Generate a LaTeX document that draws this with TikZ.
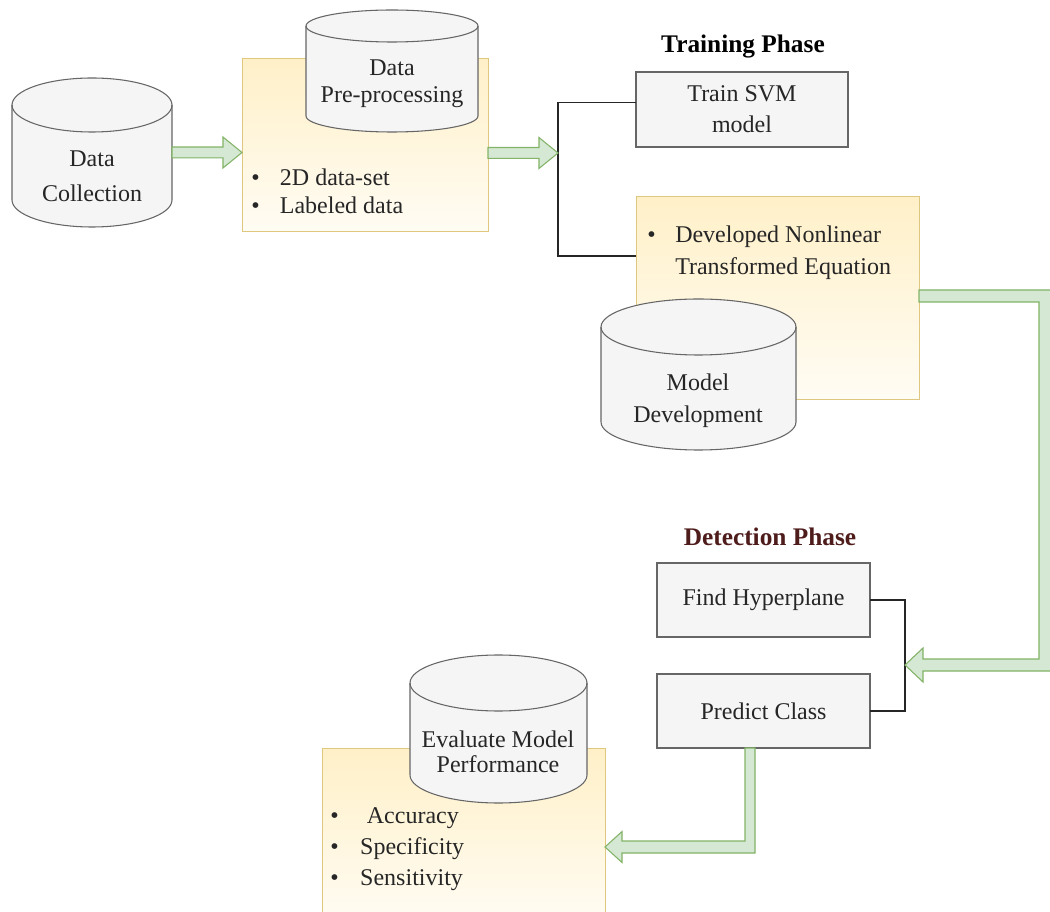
\documentclass[tikz,border=0pt]{standalone}
\usepackage{fontspec}
\setmainfont{Liberation Serif}
\usetikzlibrary{fit,calc}
\definecolor{cylfill}{HTML}{F5F5F5}
\definecolor{cyldraw}{HTML}{666666}
\definecolor{yelfill}{HTML}{FFF0C8}
\definecolor{yeldraw}{HTML}{E0C77F}
\definecolor{grfill}{HTML}{D5E8D4}
\definecolor{grdraw}{HTML}{82B366}
\definecolor{txtc}{HTML}{262626}
\definecolor{phasered}{HTML}{4F1C1C}
\tikzset{
 hold/.style={inner sep=0pt, outer sep=0pt},
 cylst/.style={fill=cylfill, draw=cyldraw, line width=0.8pt},
 yelbox/.style={hold, draw=yeldraw, line width=0.75pt, top color=yelfill, bottom color=yelfill!20!white},
 graybox/.style={hold, draw=cyldraw, fill=cylfill, line width=0.9pt, align=center, text=txtc, font=\fontsize{18}{24}\selectfont},
 lbl/.style={inner sep=0pt, align=center, text=txtc},
 blist/.style={inner sep=0pt, align=left, anchor=west, text=txtc},
 garrow/.style={fill=grfill, draw=grdraw, line width=0.8pt, line join=miter},
 link/.style={draw=black!85, line width=0.9pt},
 phase/.style={inner sep=0pt, font=\bfseries\fontsize{19}{23}\selectfont},
}
\newcommand\drawcyl[2]{%
 \path[cylst] let \p1=(#1.north west), \p2=(#1.south east), \n1={(\x2-\x1)/2}, \n2={#2*0.75pt} in
  (\x1,\y1-\n2) -- (\x1,\y2+\n2) arc (180:360:\n1 and \n2) -- (\x2,\y1-\n2) arc (0:180:\n1 and \n2) -- cycle;
 \draw[cylst, fill=none] let \p1=(#1.north west), \p2=(#1.south east), \n1={(\x2-\x1)/2}, \n2={#2*0.75pt} in
  (\x1,\y1-\n2) arc (180:360:\n1 and \n2);
}
\newcommand\harrow[2]{%
 \path[garrow] let \p1=(#1), \p2=(#2) in
 (\x1,\y1+4.1pt) -- (\x2-14.25pt,\y1+4.1pt) -- (\x2-14.25pt,\y1+11.6pt) -- (\x2,\y1) -- (\x2-14.25pt,\y1-11.6pt) -- (\x2-14.25pt,\y1-4.1pt) -- (\x1,\y1-4.1pt) -- cycle;
}
\begin{document}
\begin{tikzpicture}[x=0.75pt,y=-0.75pt]
\clip (0,0) rectangle (1050,912);
\fill[white] (0,0) rectangle (1050,912);

% yellow panels
\node[yelbox, fit={(242,59)(488,232)}] (pre) {};
\node[yelbox, fit={(636,197)(919,400)}] (dev) {};
\node[yelbox, fit={(322,748)(605,925)}] (evb) {};

% gray boxes
\node[graybox, fit={(636,72)(848,147)}] (svm) {};
\node[lbl, font=\fontsize{18}{23}\selectfont] (svmtext) at (svm.center) {Train SVM\\model};
\node[graybox, fit={(657,563)(870,637)}] (fh) {};
\node[lbl, font=\fontsize{18}{23}\selectfont] (fhtext) at (fh.center) {Find Hyperplane};
\node[graybox, fit={(657,674)(870,748)}] (pc) {};
\node[lbl, font=\fontsize{18}{23}\selectfont] (pctext) at (pc.center) {Predict Class};

% cylinder holders
\node[hold, fit={(12,78)(172,227)}] (dc) {};
\node[hold, fit={(306,10)(478,132)}] (pp) {};
\node[hold, fit={(601,299)(796,450)}] (md) {};
\node[hold, fit={(410,655)(587,803)}] (ev) {};
\drawcyl{dc}{27}
\drawcyl{pp}{16}
\drawcyl{md}{28}
\drawcyl{ev}{28}

\node[lbl, font=\fontsize{18}{26}\selectfont] (dctext) at (92,176) {Data\\Collection};
\node[lbl, font=\fontsize{18}{20}\selectfont] (pptext) at (392,84) {Data\\Pre-processing};
\node[lbl, font=\fontsize{18}{24}\selectfont] (mdtext) at (698,401) {Model\\Development};
\node[lbl, font=\fontsize{18}{19}\selectfont] (evtext) at (498,752) {Evaluate Model\\Performance};

% bullet lists
\node[blist, font=\fontsize{18}{21}\selectfont] (prelist) at (251,191)
 {\makebox[21.5pt][l]{•}2D data-set\\\makebox[21.5pt][l]{•}Labeled data};
\node[blist, font=\fontsize{18}{24}\selectfont] (devlist) at (647,253)
 {\makebox[21pt][l]{•}Developed Nonlinear\\\hspace*{21pt}Transformed Equation};
\node[blist, font=\fontsize{18}{23}\selectfont] (evlist) at (330,849)
 {\makebox[22.5pt][l]{•}\hspace{5pt}Accuracy\\\makebox[22.5pt][l]{•}Specificity\\\makebox[22.5pt][l]{•}Sensitivity};

% phase titles
\node[phase, text=black] (trainphase) at (743,47) {Training Phase};
\node[phase, text=phasered] (detphase) at (770,537) {Detection Phase};

% junction points
\coordinate (tj) at (558,153);
\coordinate (dj) at (905,665);
\coordinate (rc) at (1045,0);

% brackets
\draw[link] ($(svm.west)+(0,-7)$) -| (tj) |- ($(dev.north west)+(0,59)$);
\draw[link] (fh.east) -| (dj) |- (pc.east);

% green arrows
\harrow{dc.east}{pre.west}
\harrow{$(pre.east)+(0,7.5)$}{tj}
\path[garrow] let \p1=($(dev.east)+(0,-2.5)$), \p2=(dj), \p3=(rc) in
 (\x1,\y1+4.5pt) -- (\x3+4.5pt,\y1+4.5pt) -- (\x3+4.5pt,\y2-4.5pt) -- (\x2+13.5pt,\y2-4.5pt)
 -- (\x2+13.5pt,\y2-12.75pt) -- (\x2,\y2) -- (\x2+13.5pt,\y2+12.75pt) -- (\x2+13.5pt,\y2+4.5pt)
 -- (\x3-4.5pt,\y2+4.5pt) -- (\x3-4.5pt,\y1-4.5pt) -- (\x1,\y1-4.5pt) -- cycle;
\path[garrow] let \p1=($(pc.south)+(-13.5,0)$), \p2=($(evb.north east)+(0,99)$) in
 (\x1-3.75pt,\y1) -- (\x1-3.75pt,\y2+4.5pt) -- (\x2+12.75pt,\y2+4.5pt) -- (\x2+12.75pt,\y2+11.6pt)
 -- (\x2,\y2) -- (\x2+12.75pt,\y2-11.6pt) -- (\x2+12.75pt,\y2-4.5pt) -- (\x1+3.75pt,\y2-4.5pt)
 -- (\x1+3.75pt,\y1) -- cycle;
\end{tikzpicture}
\end{document}
